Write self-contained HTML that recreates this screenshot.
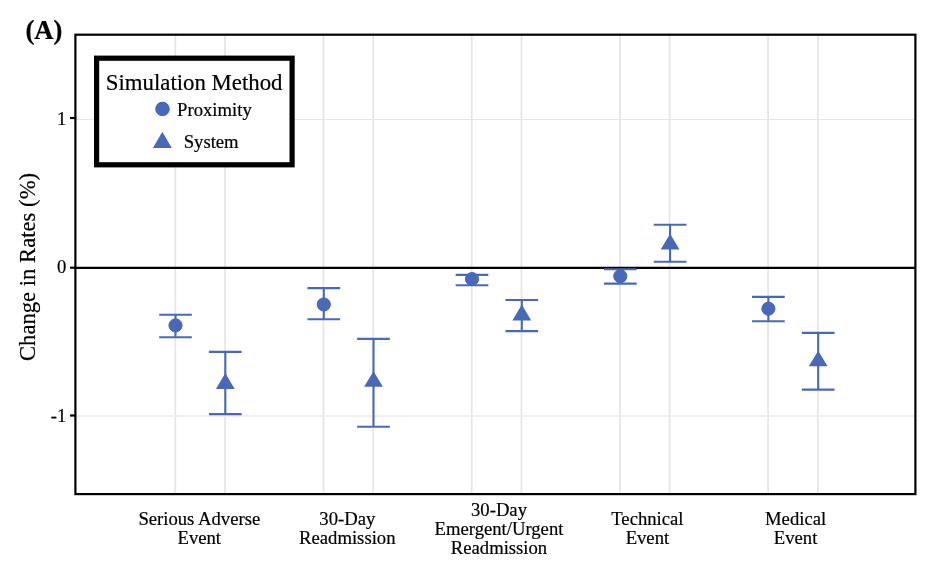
<!DOCTYPE html>
<html lang="en">
<head>
<meta charset="utf-8">
<title>Change in Rates by Simulation Method</title>
<style>
html,body{margin:0;padding:0;background:#fff;}
svg{display:block;}
text{font-family:"Liberation Serif","Times New Roman",Times,serif;fill:#000;stroke:#000;stroke-width:0.2px;}
.ax{font-size:18.67px;}
.ttl{font-size:22.67px;}
</style>
</head>
<body>
<svg width="934" height="582" viewBox="0 0 934 582">
<rect x="0" y="0" width="934" height="582" fill="#ffffff"/>
<g stroke="#E6E6E6" stroke-width="1.8" fill="none">
<line x1="175.30" y1="34.7" x2="175.30" y2="494.1"/>
<line x1="225.05" y1="34.7" x2="225.05" y2="494.1"/>
<line x1="323.50" y1="34.7" x2="323.50" y2="494.1"/>
<line x1="373.25" y1="34.7" x2="373.25" y2="494.1"/>
<line x1="471.70" y1="34.7" x2="471.70" y2="494.1"/>
<line x1="521.45" y1="34.7" x2="521.45" y2="494.1"/>
<line x1="619.90" y1="34.7" x2="619.90" y2="494.1"/>
<line x1="669.65" y1="34.7" x2="669.65" y2="494.1"/>
<line x1="768.10" y1="34.7" x2="768.10" y2="494.1"/>
<line x1="817.85" y1="34.7" x2="817.85" y2="494.1"/>
</g>
<g stroke="#EBEBEB" fill="none">
<line x1="75.4" y1="119.5" x2="915.4" y2="119.5" stroke="#E6E6E6" stroke-width="1"/>
<line x1="75.4" y1="416.1" x2="915.4" y2="416.1" stroke-width="1.5"/>
</g>
<line x1="75.4" y1="267.85" x2="915.4" y2="267.85" stroke="#000" stroke-width="2.1"/>
<g stroke="#4969B8" stroke-width="2.1" fill="#4969B8">
<path d="M159.15 314.80H191.85M159.15 337.20H191.85M175.50 314.80V337.20" fill="none"/>
<circle cx="175.50" cy="325.40" r="6.6" stroke-width="1"/>
<path d="M307.45 288.10H340.15M307.45 319.20H340.15M323.80 288.10V319.20" fill="none"/>
<circle cx="323.80" cy="304.50" r="6.6" stroke-width="1"/>
<path d="M455.65 274.90H488.35M455.65 285.30H488.35M472.00 274.90V285.30" fill="none"/>
<circle cx="472.00" cy="279.10" r="6.6" stroke-width="1"/>
<path d="M603.95 269.30H636.65M603.95 283.60H636.65M620.30 269.30V283.60" fill="none"/>
<circle cx="620.30" cy="276.20" r="6.6" stroke-width="1"/>
<path d="M752.05 296.90H784.75M752.05 321.20H784.75M768.40 296.90V321.20" fill="none"/>
<circle cx="768.40" cy="308.70" r="6.6" stroke-width="1"/>
<path d="M208.95 351.90H241.65M208.95 414.10H241.65M225.30 351.90V414.10" fill="none"/>
<polygon points="225.30,373.10 234.70,388.90 215.90,388.90" stroke="none"/>
<path d="M357.15 338.90H389.85M357.15 426.75H389.85M373.50 338.90V426.75" fill="none"/>
<polygon points="373.50,371.20 382.90,386.70 364.10,386.70" stroke="none"/>
<path d="M505.45 300.00H538.15M505.45 331.10H538.15M521.80 300.00V331.10" fill="none"/>
<polygon points="521.80,304.60 531.20,320.40 512.40,320.40" stroke="none"/>
<path d="M653.75 224.70H686.45M653.75 261.80H686.45M670.10 224.70V261.80" fill="none"/>
<polygon points="670.10,233.70 679.50,249.50 660.70,249.50" stroke="none"/>
<path d="M801.85 332.90H834.55M801.85 389.60H834.55M818.20 332.90V389.60" fill="none"/>
<polygon points="818.20,350.80 827.60,366.20 808.80,366.20" stroke="none"/>
</g>
<rect x="75.4" y="34.7" width="840.0" height="459.4" fill="none" stroke="#000" stroke-width="2.2"/>
<g stroke="#000" stroke-width="2.2">
<line x1="70.0" y1="118.0" x2="75.4" y2="118.0"/>
<line x1="70.0" y1="267.7" x2="75.4" y2="267.7"/>
<line x1="70.0" y1="415.5" x2="75.4" y2="415.5"/>
</g>
<g class="ax" text-anchor="end">
<text x="66.4" y="125.1">1</text>
<text x="66.4" y="273.0">0</text>
<text x="66.4" y="422.2">-1</text>
</g>
<text class="ttl" text-anchor="middle" transform="translate(35.1 267) rotate(-90)">Change in Rates (%)</text>
<text x="25.4" y="38.8" style="font-size:26.67px;font-weight:bold">(A)</text>
<rect x="96.6" y="58.2" width="195.5" height="106.6" fill="#fff" stroke="#000" stroke-width="5.2"/>
<text class="ttl" x="105.8" y="90.1" style="font-size:22.8px">Simulation Method</text>
<circle cx="162.5" cy="108.9" r="6.8" fill="#4969B8" stroke="#4969B8" stroke-width="1"/>
<polygon points="162.35,131.7 171.8,148 152.9,148" fill="#4969B8"/>
<text class="ax" x="177.1" y="115.7">Proximity</text>
<text class="ax" x="183.7" y="147.7">System</text>
<g class="ax" text-anchor="middle">
<text x="199.3" y="524.7">Serious Adverse</text>
<text x="199.3" y="543.7">Event</text>
<text x="347.3" y="524.7">30-Day</text>
<text x="347.3" y="543.7">Readmission</text>
<text x="499.0" y="515.7">30-Day</text>
<text x="499.0" y="534.7">Emergent/Urgent</text>
<text x="499.0" y="553.7">Readmission</text>
<text x="647.4" y="524.7">Technical</text>
<text x="647.4" y="543.7">Event</text>
<text x="795.6" y="524.7">Medical</text>
<text x="795.6" y="543.7">Event</text>
</g>
</svg>
</body>
</html>
